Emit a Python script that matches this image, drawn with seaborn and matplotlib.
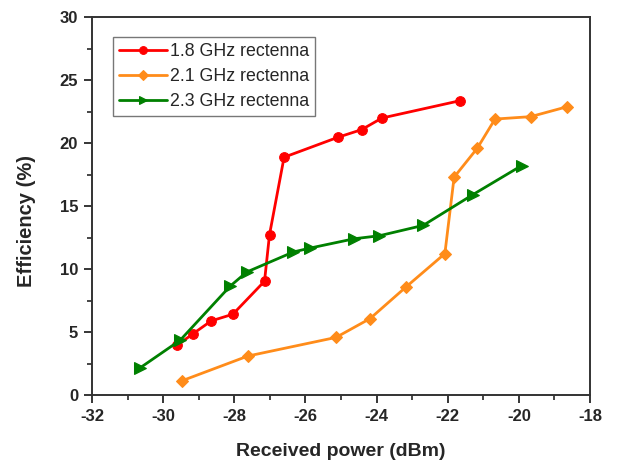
import matplotlib
matplotlib.use("Agg")
import matplotlib.pyplot as plt
import seaborn as sns
import pandas as pd
from matplotlib.ticker import MultipleLocator

sns.set_style("white")
plt.rcParams['font.family'] = ['Liberation Sans', 'DejaVu Sans']
plt.rcParams['axes.unicode_minus'] = False

x_18 = [-29.60, -29.15, -28.65, -28.04, -27.15, -27.01, -26.60, -25.09, -24.42, -23.85, -21.65]
y_18 = [3.96, 4.88, 5.88, 6.41, 9.03, 12.72, 18.87, 20.45, 21.06, 21.98, 23.36]
x_21 = [-29.47, -27.62, -25.14, -24.18, -23.17, -22.08, -21.82, -21.17, -20.67, -19.67, -18.64]
y_21 = [1.13, 3.09, 4.57, 6.07, 8.58, 11.22, 17.29, 19.58, 21.9, 22.09, 22.88]
x_23 = [-30.64, -29.52, -28.12, -27.65, -26.34, -25.87, -24.63, -23.92, -22.69, -21.30, -19.92]
y_23 = [2.17, 4.35, 8.63, 9.76, 11.35, 11.66, 12.4, 12.64, 13.46, 15.89, 18.21]
labels = ["1.8 GHz rectenna", "2.1 GHz rectenna", "2.3 GHz rectenna"]
x_ticks = [-32, -30, -28, -26, -24, -22, -20, -18]
y_ticks = [0, 5, 10, 15, 20, 25, 30]

fig = plt.figure(figsize=(6.2, 4.63), dpi=100)
ax = fig.add_axes([92/620, 1-395/463, (590-92)/620, (395-17)/463])

series = [(x_18, y_18, labels[0], "#ff0000", "o", 7),
          (x_21, y_21, labels[1], "#ff8c1a", "D", 6),
          (x_23, y_23, labels[2], "#008000", ">", 8)]
for xs, ys, lab, col, mk, ms in series:
    df = pd.DataFrame({"x": xs, "y": ys})
    sns.lineplot(data=df, x="x", y="y", ax=ax, color=col, marker=mk, markersize=ms,
                 markeredgecolor=col, linewidth=2, sort=False, label=lab)

ax.set_xlim(-32, -18)
ax.set_ylim(0, 30)
ax.set_xticks(x_ticks)
ax.set_yticks(y_ticks)
ax.xaxis.set_minor_locator(MultipleLocator(1))
ax.yaxis.set_minor_locator(MultipleLocator(2.5))
ax.tick_params(which='major', direction='out', length=6, width=1.3, labelsize=12,
               bottom=True, left=True, top=False, right=False, pad=4)
ax.tick_params(which='minor', direction='out', length=3.5, width=1.2,
               bottom=True, left=True, top=False, right=False)
for lbl in ax.get_xticklabels() + ax.get_yticklabels():
    lbl.set_fontweight('bold')
for s in ax.spines.values():
    s.set_linewidth(1.4)
    s.set_color("#333333")

ax.set_xlabel("Received power (dBm)", fontsize=14, fontweight='bold')
ax.set_ylabel("Efficiency (%)", fontsize=14.5, fontweight='bold')
ax.xaxis.set_label_coords(0.5, -(451-395)/378, transform=ax.transAxes)
ax.yaxis.set_label_coords(-(92-27)/498, 1-(221-17)/378, transform=ax.transAxes)
ax.xaxis.label.set_va('center')
ax.yaxis.label.set_va('center')

leg = ax.legend(loc="upper left", bbox_to_anchor=(0.0416, 0.948), fontsize=12.8,
                frameon=True, fancybox=False, handlelength=2.7, handletextpad=0.15,
                borderpad=0.35, labelspacing=0.45, borderaxespad=0.0, markerscale=0.8)
leg.get_frame().set_edgecolor("#555555")
leg.get_frame().set_linewidth(1.0)

fig.savefig("out.png", dpi=100)
